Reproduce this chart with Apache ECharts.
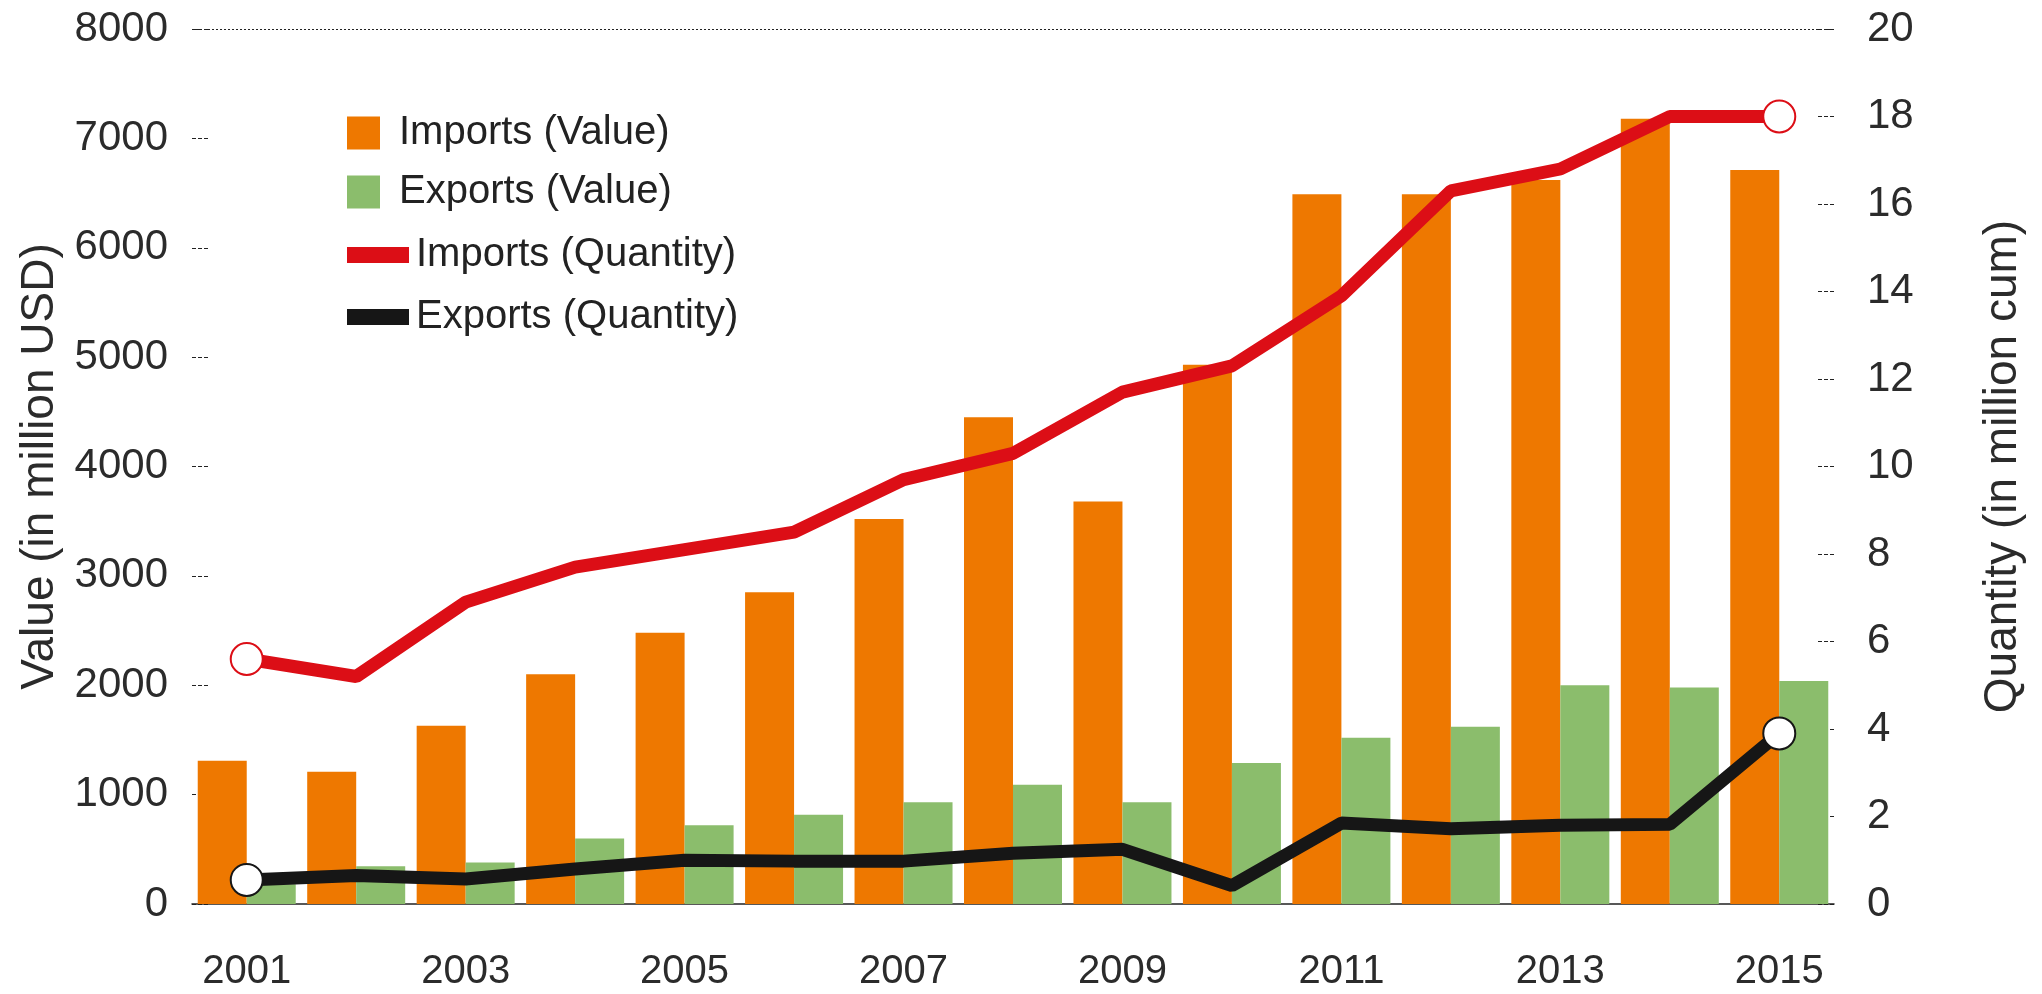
<!DOCTYPE html>
<html>
<head>
<meta charset="utf-8">
<script src="https://cdn.jsdelivr.net/npm/echarts@6/dist/echarts.min.js"></script>
<style>
  html, body { margin: 0; padding: 0; background: #fff; }
  #chart { width: 2042px; height: 994px; }
</style>
</head>
<body>
<div id="chart"></div>
<script>
var years = ['2001', '2002', '2003', '2004', '2005', '2006', '2007', '2008',
             '2009', '2010', '2011', '2012', '2013', '2014', '2015'];

// value in million USD (left axis)
var importsValue = [1310, 1210, 1630, 2100, 2480, 2850, 3520, 4450, 3680, 4930, 6490, 6490, 6620, 7180, 6710];
var exportsValue = [180, 345, 380, 600, 720, 815, 930, 1090, 930, 1290, 1520, 1620, 2000, 1980, 2040];

// quantity in million cum (right axis)
var importsQty = [5.6, 5.2, 6.9, 7.7, 8.1, 8.5, 9.7, 10.3, 11.7, 12.3, 13.9, 16.3, 16.8, 18, 18];
var exportsQty = [0.55, 0.65, 0.57, 0.8, 1.0, 0.98, 0.98, 1.16, 1.25, 0.42, 1.85, 1.72, 1.8, 1.82, 3.9];

var ORANGE = '#ee7800', GREEN = '#8bbd6c', RED = '#dc0e16', BLACK = '#161616';
var FONT = '"Liberation Sans", Arial, sans-serif';

// only the first and last points carry a hollow circle
function endPoints(values, color) {
  return values.map(function (v, i) {
    if (i === 0 || i === values.length - 1) {
      return { value: v, symbolSize: 32,
        itemStyle: { color: '#fff', borderColor: color, borderWidth: 2 } };
    }
    return { value: v, symbolSize: 0 };
  });
}

var chart = echarts.init(document.getElementById('chart'));

chart.setOption({
  animation: false,
  textStyle: { fontFamily: FONT },
  grid: { left: 192, right: 208, top: 29, bottom: 90 },
  legend: [{
    data: ['Imports (Value)', 'Exports (Value)'],
    orient: 'vertical',
    left: 342, top: 108,
    icon: 'rect',
    itemWidth: 33, itemHeight: 33,
    itemGap: 19,
    textStyle: { fontSize: 40, color: '#222', padding: [0, 0, 0, 14] },
    selectedMode: false
  }, {
    data: ['Imports (Quantity)', 'Exports (Quantity)'],
    orient: 'vertical',
    left: 342, top: 230,
    icon: 'rect',
    itemWidth: 62, itemHeight: 16,
    itemGap: 22,
    textStyle: { fontSize: 40, color: '#222', padding: [0, 0, 0, 2] },
    selectedMode: false
  }],
  xAxis: {
    type: 'category',
    data: years,
    boundaryGap: true,
    axisLine: { lineStyle: { color: '#222', width: 1.5 } },
    axisTick: { length: 18, lineStyle: { color: '#222', width: 1.5 } },
    axisLabel: { interval: 1, fontSize: 40, color: '#2b2b2b', margin: 48 }
  },
  yAxis: [{
    type: 'value',
    min: 0, max: 8000, interval: 1000,
    name: 'Value (in million USD)',
    nameLocation: 'middle',
    nameGap: 128,
    nameTextStyle: { fontSize: 46, color: '#2b2b2b' },
    axisLine: { show: false },
    axisTick: { show: true, inside: true, length: 18,
      lineStyle: { color: '#222', width: 1, type: [4, 2] } },
    axisLabel: { fontSize: 42, color: '#2b2b2b', margin: 24,
      formatter: function (v) { return String(v); } },
    splitLine: { show: false }
  }, {
    type: 'value',
    min: 0, max: 20, interval: 2,
    name: 'Quantity (in million cum)',
    nameLocation: 'middle',
    nameGap: 146,
    nameRotate: 90,
    nameTextStyle: { fontSize: 46, color: '#2b2b2b' },
    axisLine: { show: false },
    axisTick: { show: true, inside: true, length: 18,
      lineStyle: { color: '#222', width: 1, type: [4, 2] } },
    axisLabel: { fontSize: 42, color: '#2b2b2b', margin: 33 },
    splitLine: { show: false }
  }],
  series: [{
    name: 'Imports (Value)',
    type: 'bar',
    data: importsValue,
    barWidth: 49,
    barGap: '0%',
    itemStyle: { color: ORANGE },
    markLine: {
      silent: true,
      symbol: 'none',
      label: { show: false },
      lineStyle: { color: '#222', width: 1, type: [2, 2] },
      data: [{ yAxis: 8000 }]
    }
  }, {
    name: 'Exports (Value)',
    type: 'bar',
    data: exportsValue,
    barWidth: 49,
    barGap: '0%',
    itemStyle: { color: GREEN }
  }, {
    name: 'Imports (Quantity)',
    type: 'line',
    yAxisIndex: 1,
    data: endPoints(importsQty, RED),
    symbol: 'circle',
    lineStyle: { color: RED, width: 13 },
    itemStyle: { color: RED },
    z: 5
  }, {
    name: 'Exports (Quantity)',
    type: 'line',
    yAxisIndex: 1,
    data: endPoints(exportsQty, BLACK),
    symbol: 'circle',
    lineStyle: { color: BLACK, width: 13 },
    itemStyle: { color: BLACK },
    z: 5
  }]
});
</script>
</body>
</html>
